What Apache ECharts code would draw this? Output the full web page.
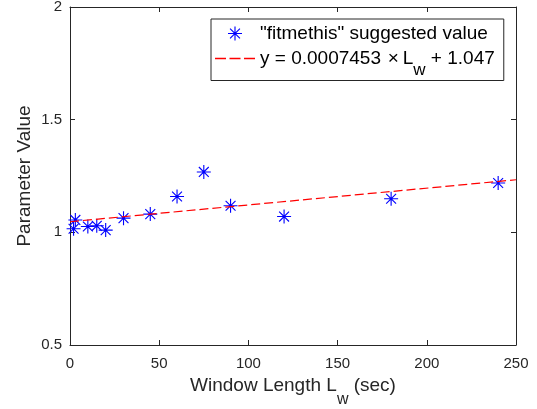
<!DOCTYPE html>
<html>
<head>
<meta charset="utf-8">
<script src="https://cdn.jsdelivr.net/npm/echarts@6/dist/echarts.min.js"></script>
<style>
  html, body { margin: 0; padding: 0; background: #ffffff; }
  #chart { width: 537px; height: 409px; }
</style>
</head>
<body>
<div id="chart"></div>
<script>
// Window lengths (sec) and the parameter value suggested by fitmethis for each
const windowLengths = [2, 3, 10, 15, 20, 30, 45, 60, 75, 90, 120, 180, 240];
const suggestedValues = [1.016, 1.055, 1.026, 1.029, 1.010, 1.063, 1.081, 1.159, 1.268, 1.118, 1.070, 1.149, 1.219];

// Linear fit through the suggested values
const fitSlope = 0.0007453;
const fitIntercept = 1.047;
const fitRange = [0, 250];

// Axis ticks
const xTicks = [0, 50, 100, 150, 200, 250];
const yTicks = [0.5, 1, 1.5, 2];

const scatterName = '"fitmethis" suggested value';
const fitName = 'y = ' + fitSlope + ' × Lw + ' + fitIntercept;

const FONT = '"Liberation Sans", Arial, Helvetica, sans-serif';
const AXIS_COLOR = '#262626';

// Asterisk marker: a "+" and an "x" of equal arm length
const asterisk = 'path://' +
  'M9.2 0L10.8 0L10.8 20L9.2 20Z ' +
  'M0 9.2L20 9.2L20 10.8L0 10.8Z ' +
  'M3.50 2.37L17.63 16.50L16.50 17.63L2.37 3.50Z ' +
  'M16.50 2.37L17.63 3.50L3.50 17.63L2.37 16.50Z';

// Dashed-line legend icon (three dashes across the icon width)
const dashedIcon = 'path://' +
  'M0 0L11 0L11 1.3L0 1.3Z ' +
  'M14.5 0L25.5 0L25.5 1.3L14.5 1.3Z ' +
  'M29 0L40 0L40 1.3L29 1.3Z';

const scatterData = windowLengths.map((x, i) => [x, suggestedValues[i]]);
const fitData = fitRange.map(x => [x, fitSlope * x + fitIntercept]);

const xMin = xTicks[0], xMax = xTicks[xTicks.length - 1], xStep = xTicks[1] - xTicks[0];
const yMin = yTicks[0], yMax = yTicks[yTicks.length - 1], yStep = yTicks[1] - yTicks[0];

function baseAxis(extra) {
  return Object.assign({
    type: 'value',
    splitLine: { show: false },
    axisLine: { show: true, onZero: false, lineStyle: { color: AXIS_COLOR, width: 1 } },
    axisTick: { show: true, inside: true, length: 5, lineStyle: { color: AXIS_COLOR, width: 1 } },
  }, extra);
}

const chart = echarts.init(document.getElementById('chart'), null, { renderer: 'canvas' });

chart.setOption({
  animation: false,
  backgroundColor: '#ffffff',
  grid: { left: 70, right: 21, top: 7, bottom: 64, containLabel: false, outerBoundsMode: 'none' },
  xAxis: [
    baseAxis({
      position: 'bottom', min: xMin, max: xMax, interval: xStep,
      axisLabel: { color: AXIS_COLOR, fontFamily: FONT, fontSize: 15, margin: 11 },
      name: '{t|Window Length L}{s|w}{t| (sec)}',
      nameLocation: 'middle',
      nameGap: 17,
      nameTextStyle: {
        color: AXIS_COLOR, fontFamily: FONT,
        rich: {
          t: { fontFamily: FONT, fontSize: 19, lineHeight: 45, color: AXIS_COLOR },
          s: { fontFamily: FONT, fontSize: 16, lineHeight: 16, verticalAlign: 'bottom', color: AXIS_COLOR }
        }
      }
    }),
    baseAxis({
      position: 'top', min: xMin, max: xMax, interval: xStep,
      axisLabel: { show: false }
    })
  ],
  yAxis: [
    baseAxis({
      position: 'left', min: yMin, max: yMax, interval: yStep,
      axisLabel: { color: AXIS_COLOR, fontFamily: FONT, fontSize: 15, margin: 8 },
      name: 'Parameter Value',
      nameLocation: 'middle',
      nameMoveOverlap: false,
      nameGap: 36,
      nameTextStyle: { color: AXIS_COLOR, fontFamily: FONT, fontSize: 19 }
    }),
    baseAxis({
      position: 'right', min: yMin, max: yMax, interval: yStep,
      axisLabel: { show: false }
    })
  ],
  legend: {
    orient: 'vertical',
    left: 211,
    top: 19,
    padding: [5, 9, 2, 4],
    itemGap: 6,
    itemWidth: 40,
    itemHeight: 14,
    symbolKeepAspect: true,
    backgroundColor: '#ffffff',
    borderColor: AXIS_COLOR,
    borderWidth: 1,
    borderRadius: 0,
    data: [
      { name: scatterName },
      { name: fitName, icon: dashedIcon, itemStyle: { color: '#ff0000' } }
    ],
    formatter: function (name) {
      if (name === fitName) {
        return '{u|y = ' + fitSlope + '\u200A ×\u2009L}{s|w}{u| + ' + fitIntercept + '}';
      }
      return '{t|' + name + '}';
    },
    textStyle: {
      fontFamily: FONT, fontSize: 19, color: '#000000',
      rich: {
        t: { fontFamily: FONT, fontSize: 19, lineHeight: 17, color: '#000000' },
        u: { fontFamily: FONT, fontSize: 19, lineHeight: 40, color: '#000000' },
        s: { fontFamily: FONT, fontSize: 17, lineHeight: 17, verticalAlign: 'bottom', color: '#000000' }
      }
    }
  },
  series: [
    {
      name: scatterName,
      type: 'scatter',
      xAxisIndex: 0,
      yAxisIndex: 0,
      data: scatterData,
      symbol: asterisk,
      symbolSize: 14,
      symbolKeepAspect: true,
      itemStyle: { color: '#0000ff', opacity: 1 },
      z: 2
    },
    {
      name: fitName,
      type: 'line',
      xAxisIndex: 0,
      yAxisIndex: 0,
      data: fitData,
      symbol: 'none',
      showSymbol: false,
      lineStyle: { color: '#ff0000', width: 1.2, type: [9, 4] },
      itemStyle: { color: '#ff0000' },
      z: 3
    }
  ]
});
</script>
</body>
</html>
